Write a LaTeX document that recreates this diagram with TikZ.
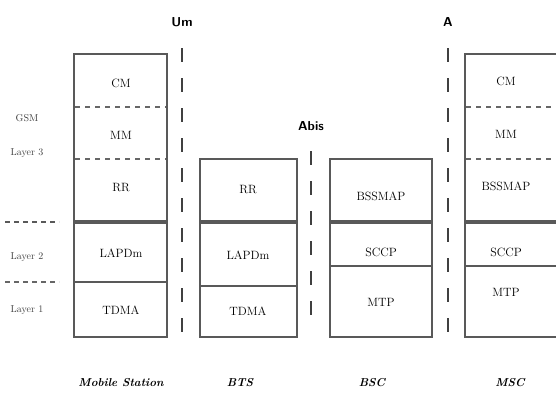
\documentclass[tikz,border=0pt]{standalone}

\tikzset{
  stackline/.style={draw=black!65, line width=1.6pt},
  sepline/.style={draw=black!65, line width=3.4pt},
  dotline/.style={draw=black!60, line width=1.2pt, dash pattern=on 5pt off 5pt},
  ifline/.style={draw=black!75, line width=1.8pt, dash pattern=on 14pt off 16pt},
  proto/.style={font=\fontsize{12}{14}\selectfont, inner sep=1pt},
  layer/.style={font=\fontsize{10}{12}\selectfont, inner sep=1pt, text=black!75},
  entity/.style={font=\fontsize{11.5}{14}\selectfont\bfseries\itshape, inner sep=1pt},
  iface/.style={font=\fontsize{13}{15}\sffamily\bfseries\selectfont, inner sep=1pt}
}

\begin{document}
\begin{tikzpicture}[x=1pt, y=-1pt]
  \clip (0,0) rectangle (556,394);
  % layer marks on the left
  \node[layer] (gsm) at (27,118) {GSM};
  \node[layer] (l3) at (27,153) {Layer 3};
  \node[layer] (l2) at (27,257) {Layer 2};
  \node[layer] (l1) at (27,310) {Layer 1};
  \draw[draw=black!65, line width=2.6pt, dash pattern=on 5pt off 4pt] (5,222) -- (59,222);
  \draw[draw=black!60, line width=1.3pt, dash pattern=on 5pt off 4pt] (5,282) -- (59,282);

  % Mobile Station
  \draw[stackline] (74,54) rectangle (167,337);
  \draw[dotline] (75,107) -- (166,107);
  \draw[dotline] (75,159) -- (166,159);
  \draw[sepline] (74,222) -- (167,222);
  \draw[stackline] (74,282) -- (167,282);
  \node[proto] (mscm) at (121,83) {CM};
  \node[proto] (msmm) at (121,135) {MM};
  \node[proto] (msrr) at (121,188) {RR};
  \node[proto] (mslapd) at (121,253) {LAPDm};
  \node[proto] (mstdma) at (121,310) {TDMA};

  % BTS
  \draw[stackline] (200,159) rectangle (297,337);
  \draw[sepline] (200,222) -- (297,222);
  \draw[stackline] (200,286) -- (297,286);
  \node[proto] (btsrr) at (248,190) {RR};
  \node[proto] (btslapd) at (248,255) {LAPDm};
  \node[proto] (btstdma) at (248,311) {TDMA};

  % BSC
  \draw[stackline] (330,159) rectangle (432,337);
  \draw[sepline] (330,222) -- (432,222);
  \draw[stackline] (330,266) -- (432,266);
  \node[proto] (bscmap) at (381,196) {BSSMAP};
  \node[proto] (bscsccp) at (381,252) {SCCP};
  \node[proto] (bscmtp) at (381,302) {MTP};

  % MSC
  \draw[stackline] (465,54) rectangle (570,337);
  \draw[dotline] (466,107) -- (570,107);
  \draw[dotline] (466,159) -- (570,159);
  \draw[sepline] (465,222) -- (570,222);
  \draw[stackline] (465,266) -- (570,266);
  \node[proto] (msccm) at (506,81) {CM};
  \node[proto] (mscmm) at (506,134) {MM};
  \node[proto] (mscmap) at (506,186) {BSSMAP};
  \node[proto] (mscsccp) at (506,252) {SCCP};
  \node[proto] (mscmtp) at (506,292) {MTP};

  % interfaces
  \node[iface] (um) at (182,22) {Um};
  \node[iface] (abis) at (311,126) {Abis};
  \node[iface] (a) at (448,22) {A};
  \draw[ifline] (182,48) -- (182,337);
  \draw[ifline] (311,151) -- (311,323);
  \draw[ifline] (448,48) -- (448,337);

  % entities
  \node[entity] (ms) at (121,383) {Mobile Station};
  \node[entity] (bts) at (240,383) {BTS};
  \node[entity] (bsc) at (372,383) {BSC};
  \node[entity] (msc) at (510,383) {MSC};
\end{tikzpicture}
\end{document}
